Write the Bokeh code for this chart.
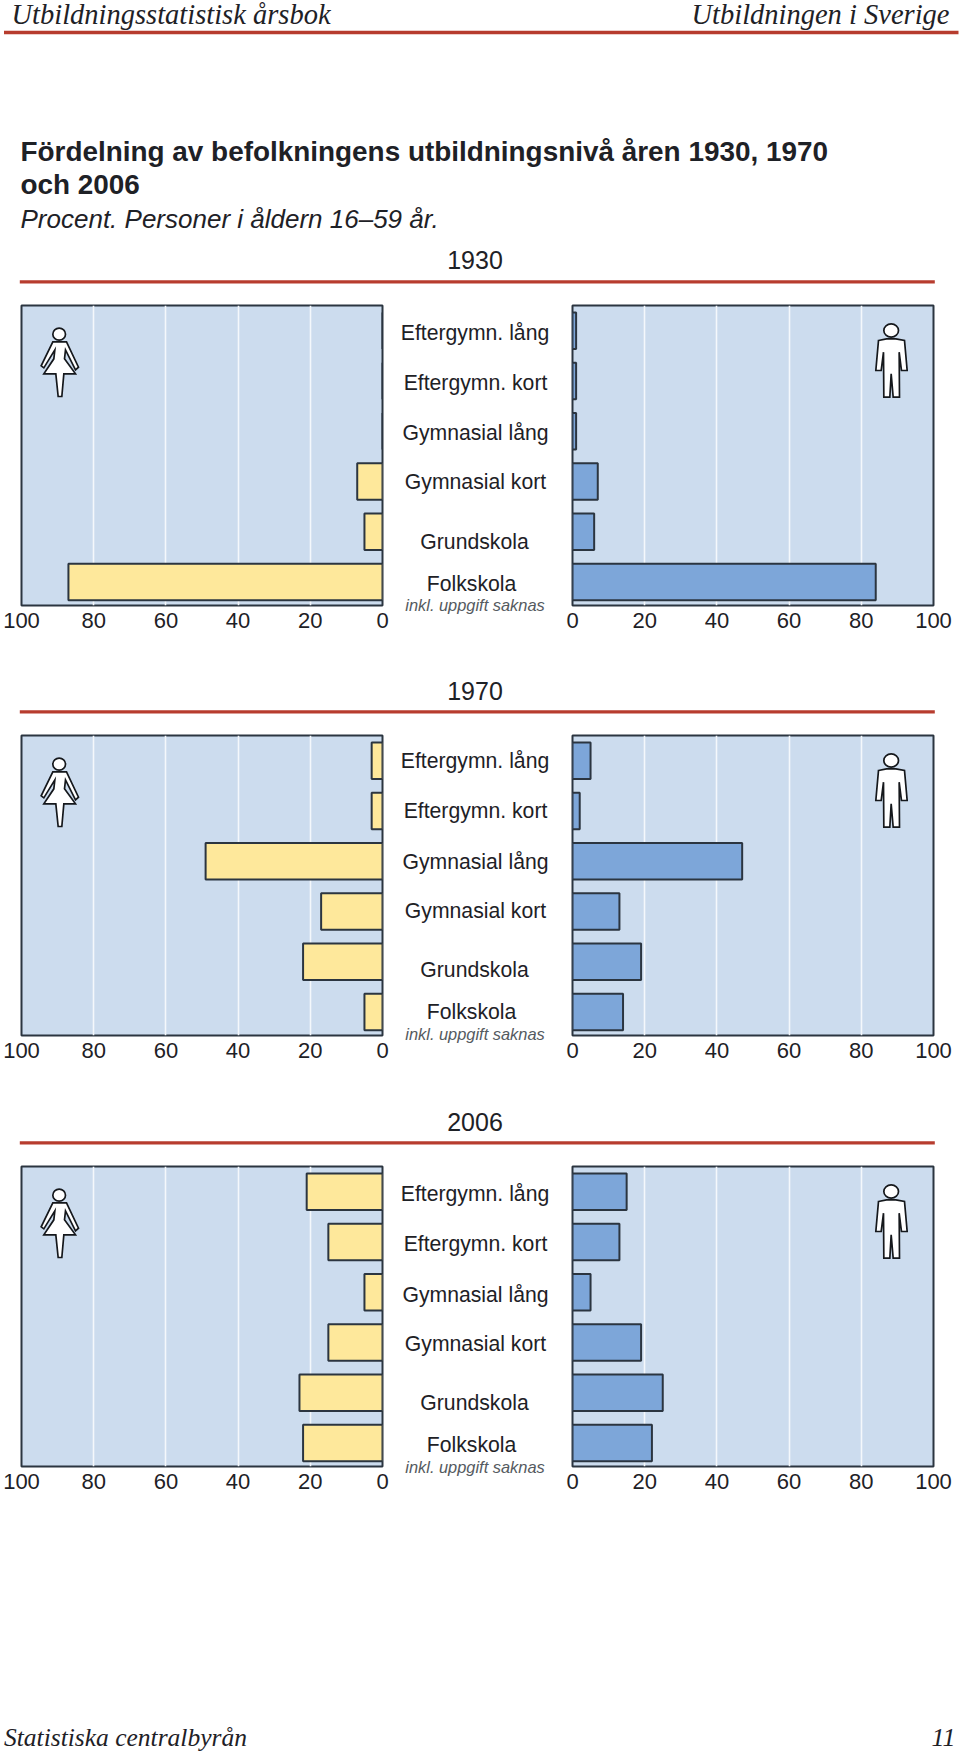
from bokeh.plotting import figure
from bokeh.layouts import column, row
from bokeh.models import Range1d, FixedTicker, ColumnDataSource
from bokeh.core.properties import value
from bokeh.embed import file_html
from bokeh.resources import INLINE

categories = ["Eftergymn. lång", "Eftergymn. kort", "Gymnasial lång", "Gymnasial kort", "Grundskola", "Folkskola"]
note = "inkl. uppgift saknas"
years = ["1930", "1970", "2006"]
women_1930 = [0, 0, 0, 7, 5, 87]
men_1930 = [1, 1, 1, 7, 6, 84]
women_1970 = [3, 3, 49, 17, 22, 5]
men_1970 = [5, 2, 47, 13, 19, 14]
women_2006 = [21, 15, 5, 15, 23, 22]
men_2006 = [15, 13, 5, 19, 25, 22]
axis_ticks = [0, 20, 40, 60, 80, 100]

running_left = "Utbildningsstatistisk årsbok"
running_right = "Utbildningen i Sverige"
title_1 = "Fördelning av befolkningens utbildningsnivå åren 1930, 1970"
title_2 = "och 2006"
subtitle = "Procent. Personer i åldern 16–59 år."
footer_left = "Statistiska centralbyrån"
footer_right = "11"

SANS = "Liberation Sans"
SERIF = "Liberation Serif"
INK = "#1e2126"
RED = "#b73c2e"
DARK = "#2b3540"
PANEL = "#ccdcee"
YELLOW = "#fee89b"
BLUE = "#7da6d9"

PANEL_TOPS = [305, 735, 1166]
PANEL_H = 300
PAD_TOP = 3
PAD_BOTTOM = 47
STEP = PANEL_H / (0.5 + 5 + 0.468)
ICON_DY = 5

WOMAN = [(97, 94), (138, 94), (174, 170), (165, 178), (135, 118), (132, 145), (165, 190), (130, 190),
         (124, 258), (113, 258), (106, 190), (70, 190), (100, 145), (103, 118), (70, 172), (62, 166)]
WOMAN_HEAD = (116, 71, 19, 18)
MAN = [(84, 90), (108, 85), (136, 85), (162, 90), (170, 180), (153, 180), (146, 125), (147, 260), (128, 260),
       (122, 190), (118, 260), (100, 260), (99, 125), (92, 180), (76, 180)]
MAN_HEAD = (122, 60, 22, 20)


def band(y0, y1, draw):
    p = figure(frame_width=960, frame_height=y1 - y0, x_range=Range1d(0, 960), y_range=Range1d(y1, y0),
               output_backend="svg", toolbar_location=None, x_axis_location=None, y_axis_location=None,
               min_border=0, min_border_left=0, min_border_right=0, min_border_top=0, min_border_bottom=0,
               outline_line_color=None, background_fill_color=None, border_fill_color=None)
    p.grid.visible = False
    draw(p)
    return p


def txt(p, x, y, s, size, font=SANS, style="normal", align="left", color=INK):
    p.text(x=[x], y=[y - 0.3 * size], text=[s], text_font=value(font), text_font_size=value(f"{size}px"),
           text_font_style=style, text_align=align, text_baseline="middle", text_color=color)


def rule(p, x0, x1, y, w=3.2):
    p.line(x=[x0, x1], y=[y, y], line_color=RED, line_width=w)


def panel(vals, color, reverse, w, left_b, right_b, icon, head, icon_x0):
    height = PAD_TOP + PANEL_H + PAD_BOTTOM
    xr = Range1d(100, 0) if reverse else Range1d(0, 100)
    p = figure(width=w, height=height, x_range=xr, y_range=Range1d(5.468, -0.5),
               output_backend="svg", toolbar_location=None, y_axis_location=None,
               min_border_left=left_b, min_border_right=right_b, min_border_top=PAD_TOP, min_border_bottom=PAD_BOTTOM,
               background_fill_color=PANEL, border_fill_color=None, outline_line_color=DARK, outline_line_width=2)
    p.ygrid.visible = False
    p.xgrid.ticker = FixedTicker(ticks=axis_ticks)
    p.xgrid.grid_line_color = "#f4f8fc"
    p.xgrid.grid_line_width = 1.6
    ax = p.xaxis[0]
    ax.ticker = FixedTicker(ticks=axis_ticks)
    ax.axis_line_color = None
    ax.major_tick_line_color = None
    ax.minor_tick_line_color = None
    ax.major_label_standoff = 1
    ax.major_label_text_font = SANS
    ax.major_label_text_font_size = "22px"
    ax.major_label_text_color = INK
    src = ColumnDataSource(dict(y=list(range(len(categories))), v=vals))
    p.hbar(y="y", left=0, right="v", height=36.5 / STEP, source=src, fill_color=color,
           line_color=DARK, line_width=2)
    frame_w = w - left_b - right_b
    p.extra_x_ranges["px"] = Range1d(0, frame_w)
    p.extra_y_ranges["px"] = Range1d(PANEL_H, 0)
    xs = [icon_x0 + a / 3 for a, _ in icon]
    ys = [ICON_DY + b / 3 for _, b in icon]
    p.patch(x=xs, y=ys, fill_color="white", line_color="#15181c", line_width=1.7, line_join="miter",
            x_range_name="px", y_range_name="px")
    hx, hy, rx, ry = head
    p.ellipse(x=[icon_x0 + hx / 3], y=[ICON_DY + hy / 3], width=[2 * rx / 3], height=[2 * ry / 3], fill_color="white",
              line_color="#15181c", line_width=1.7, x_range_name="px", y_range_name="px")
    return p


def middle(shift):
    height = PAD_TOP + PANEL_H + PAD_BOTTOM
    to_idx = lambda px: (px - 25.1) / STEP
    p = figure(frame_width=150, frame_height=height, x_range=Range1d(400, 550),
               y_range=Range1d(to_idx(height - PAD_TOP), to_idx(-PAD_TOP)),
               output_backend="svg", toolbar_location=None, x_axis_location=None, y_axis_location=None,
               min_border=0, min_border_left=0, min_border_right=0, min_border_top=0, min_border_bottom=0,
               outline_line_color=None, background_fill_color=None, border_fill_color=None)
    p.grid.visible = False
    centers = [474.5, 475, 475, 475, 474, 471]
    offsets = [3, 3, 3, 2, 11, 3]
    for i, c in enumerate(categories):
        p.text(x=[centers[i]], y=[i], text=[c], text_font=value(SANS), text_font_size=value("21.2px"),
               text_align="center", text_baseline="middle", text_color=INK, y_offset=offsets[i] + shift)
    p.text(x=[474.5], y=[5], text=[note], text_font=value(SANS), text_font_size=value("16.4px"),
           text_font_style="italic", text_align="center", text_baseline="middle", text_color="#555a60",
           y_offset=25 + shift)
    return p


def section(women, men, shift):
    L = panel(women, YELLOW, True, 400, 21, 18, WOMAN, WOMAN_HEAD, 20 - 21)
    M = middle(shift)
    R = panel(men, BLUE, False, 410, 22, 27, MAN, MAN_HEAD, 850 - 572)
    return row(L, M, R, spacing=0)


def head_band(p):
    txt(p, 11, 23, running_left, 28.5, SERIF, "italic")
    txt(p, 949, 23, running_right, 28.5, SERIF, "italic", "right")
    rule(p, 3.5, 958, 32, 3.4)
    txt(p, 20, 159, title_1, 27.9, SANS, "bold")
    txt(p, 20, 192, title_2, 27.9, SANS, "bold")
    txt(p, 20, 226, subtitle, 26, SANS, "italic")
    txt(p, 474.5, 267, years[0], 25, align="center")
    rule(p, 19.3, 934.3, 281.3)


def year_band(i):
    def d(p):
        base = PANEL_TOPS[i] - 23.7
        txt(p, 474.5, base - 13.8, years[i], 25, align="center")
        rule(p, 19.3, 934.3, base)
    return d


b0_end = PANEL_TOPS[0] - PAD_TOP
b1_start = PANEL_TOPS[0] + PANEL_H + PAD_BOTTOM
b1_end = PANEL_TOPS[1] - PAD_TOP
b2_start = PANEL_TOPS[1] + PANEL_H + PAD_BOTTOM
b2_end = PANEL_TOPS[2] - PAD_TOP
b3_start = PANEL_TOPS[2] + PANEL_H + PAD_BOTTOM


def foot_band(p):
    txt(p, 3.5, 1745, footer_left, 25.5, SERIF, "italic")
    txt(p, 955, 1745, footer_right, 26, SERIF, "italic", "right")


page = column(
    band(0, b0_end, head_band),
    section(women_1930, men_1930, -4.5),
    band(b1_start, b1_end, year_band(1)),
    section(women_1970, men_1970, -6),
    band(b2_start, b2_end, year_band(2)),
    section(women_2006, men_2006, -4),
    band(b3_start, 1756, foot_band),
    spacing=0,
)

open("out.html", "w").write(file_html(page, INLINE))
